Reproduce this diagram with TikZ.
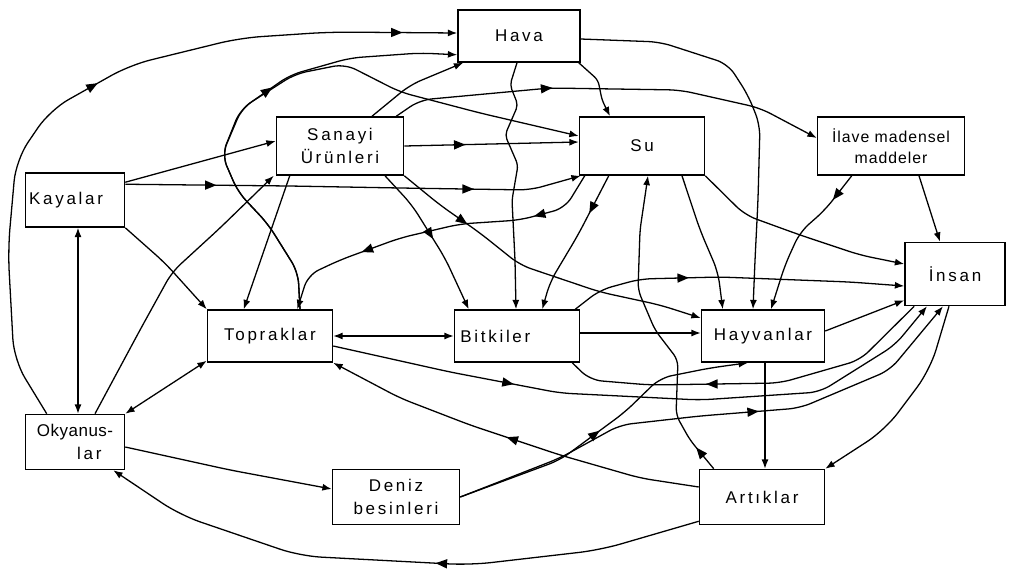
\documentclass[tikz,border=0pt]{standalone}
\usepackage{fontspec}
\setmainfont{Liberation Sans}[LetterSpace=16]
\usetikzlibrary{arrows.meta,calc,shapes.geometric,backgrounds}
\tikzset{
 box/.style={draw, line width=1.3pt, fill=white, inner sep=3pt, font=\fontsize{14.5}{19}\selectfont, align=center},
 ln/.style={line width=1.1pt, rounded corners=10pt},
 arr/.style={ln, -{Latex[length=8pt,width=6pt]}},
 barr/.style={ln, {Latex[length=8pt,width=6pt]}-{Latex[length=8pt,width=6pt]}},
 midtri/.style={sharp corners, sloped, allow upside down, isosceles triangle, isosceles triangle apex angle=45, fill=black, draw=none, inner sep=2.2pt, minimum size=0pt},
}
\begin{document}
\begin{tikzpicture}[x=0.03cm,y=-0.03cm]
\useasboundingbox (0,0) rectangle (1011,576);
% nodes
\node[box, minimum width=3.66cm, minimum height=1.56cm] (hava) at (519,36) {Hava};
\node[box, minimum width=3.81cm, minimum height=1.74cm] (san) at (340,146) {Sanayi\\Ürünleri};
\node[box, minimum width=3.75cm, minimum height=1.74cm] (su) at (642,146) {Su};
\node[box, minimum width=4.41cm, minimum height=1.74cm, inner sep=1pt, font=\fontsize{13.5}{18}\selectfont] (ila) at (891,146) {\addfontfeature{LetterSpace=6}İlave madensel\\\addfontfeature{LetterSpace=6}maddeler};
\node[box, minimum width=2.97cm, minimum height=1.62cm, text width=2.75cm, align=left] (kay) at (75,200) {Kayalar};
\node[box, minimum width=3.0cm, minimum height=1.89cm] (ins) at (955,274) {İnsan};
\node[box, minimum width=3.75cm, minimum height=1.56cm] (top) at (270,336) {Topraklar};
\node[box, minimum width=3.75cm, minimum height=1.56cm, text width=3.4cm, align=left] (bit) at (517,336) {Bitkiler};
\node[box, minimum width=3.69cm, minimum height=1.56cm] (hay) at (763,336) {Hayvanlar};
\node[box, minimum width=2.97cm, minimum height=1.65cm, align=right, inner sep=1pt] (ok) at (75,442) {\addfontfeature{LetterSpace=3}Okyanus-\\lar\hspace*{0.35cm}};
\node[box, minimum width=3.81cm, minimum height=1.65cm] (den) at (396,497) {Deniz\\besinleri};
\node[box, minimum width=3.75cm, minimum height=1.65cm] (art) at (762,497) {Artıklar};

\begin{pgfonlayer}{background}
% Okyanuslar -> Hava (outer arc)
\draw[arr, rounded corners=18pt] ($(ok.north west)+(22,0)$) -- (14,360) -- (8,250) -- (16,160) -- (50,110) -- node[midtri]{} (130,65) -- (240,38) -- (330,32) -- node[midtri]{} ($(hava.west)+(0,-3)$);
% Topraklar -> Hava
\draw[arr] ($(top.north)+(30,0)$) -- (298,272) -- (268,224) -- (238,192) -- (222,155) -- (240,110) -- node[midtri]{} (290,75) -- (350,58) -- (420,53) -- ($(hava.south west)+(0,-8)$);
% Topraklar -> Su
\draw[arr] ($(top.north)+(30,0)$) -- (298,272) -- (268,224) -- (238,192) -- (222,155) -- (242,108) -- (295,74) -- (345,64) -- (400,92) -- (480,113) -- ($(su.west)+(0,-10)$);
% Kayalar -> Sanayi
\draw[arr] ($(kay.north east)+(0,10)$) -- ($(san.west)+(0,-5)$);
% Kayalar -> Su
\draw[arr] ($(kay.north east)+(0,12)$) -- node[midtri]{} (290,186) -- (400,188) -- node[midtri]{} (530,190) -- ($(su.south west)+(2,0)$);
% Kayalar -> Topraklar
\draw[arr] (kay.south east) -- (165,263) -- (top.north west);
% Kayalar <-> Okyanuslar
\draw[barr] ($(kay.south)+(3,0)$) -- ($(ok.north)+(3,0)$);
% Okyanuslar -> Sanayi
\draw[arr] ($(ok.north)+(20,0)$) -- (140,330) -- (172,272) -- (220,228) -- ($(san.south west)+(-2,0)$);
% Topraklar <-> Okyanuslar
\draw[barr] ($(top.south west)+(0,-2)$) -- (ok.north east);
% Okyanuslar -> Deniz besinleri
\draw[arr] ($(ok.east)+(0,5)$) -- (230,470) -- ($(den.west)+(0,-8)$);
% Artiklar -> Okyanuslar
\draw[arr, rounded corners=18pt] ($(art.south west)+(0,-4)$) -- (600,550) -- (470,565) -- node[midtri, pos=0.15]{} (300,556) -- (180,515) -- ($(ok.south east)+(-12,0)$);
% Deniz besinleri -> Hayvanlar
\draw[arr] (den.east) -- (560,460) -- node[midtri]{} (625,412) -- (660,378) -- (710,368) -- ($(hay.south)+(-15,0)$);
% Deniz besinleri -> Insan
\draw[arr] (den.east) -- (560,458) -- (620,425) -- (700,416) -- node[midtri]{} (800,408) -- (890,370) -- ($(ins.south)+(-12,0)$);
% Artiklar -> Topraklar
\draw[arr] ($(art.west)+(0,-10)$) -- (640,478) -- (560,455) -- node[midtri]{} (470,425) -- (400,398) -- (top.south east);
% Topraklar -> Insan
\draw[arr] ($(top.east)+(0,10)$) -- (450,372) -- node[midtri]{} (560,393) -- (700,400) -- (820,392) -- (895,345) -- ($(ins.south)+(-28,0)$);
% Insan -> Bitkiler
\draw[ln] ($(ins.south west)+(10,0)$) -- (860,360) -- (780,383) -- node[midtri]{} (650,385) -- (590,380) -- ($(bit.south east)+(-8,0)$);
% Topraklar <-> Bitkiler
\draw[barr] (top.east) -- (bit.west);
% Bitkiler -> Hayvanlar
\draw[arr] ($(bit.east)+(0,-3)$) -- ($(hay.west)+(0,-3)$);
% Hayvanlar -> Insan
\draw[arr] ($(hay.east)+(0,-5)$) -- ($(ins.south west)+(0,-6)$);
% Hayvanlar -> Artiklar
\draw[arr] ($(hay.south)+(2,0)$) -- ($(art.north)+(3,0)$);
% Insan -> Artiklar
\draw[arr, rounded corners=18pt] ($(ins.south)+(-6,0)$) -- (930,370) -- (885,430) -- (art.north east);
% Hava -> Bitkiler
\draw[arr, rounded corners=4pt] ($(hava.south)+(-2,0)$) -- (510,85) -- (518,105) -- (505,135) -- (518,165) -- (512,200) -- (515,260) -- ($(bit.north)+(-1,0)$);
% Hava -> Su
\draw[arr, rounded corners=4pt] ($(hava.south east)+(-2,0)$) -- (598,80) -- (602,100) -- ($(su.north)+(-32,0)$);
% Hava -> Hayvanlar
\draw[arr] ($(hava.east)+(0,3)$) -- (660,42) -- (728,64) -- (748,95) -- (760,125) -- (758,200) -- (755,260) -- ($(hay.north)+(-10,0)$);
% Sanayi -> Ilave madensel maddeler
\draw[arr] ($(san.north east)+(-8,0)$) -- (420,100) -- node[midtri, pos=0.95]{} (550,88) -- (680,90) -- (760,108) -- ($(ila.west)+(0,-8)$);
% Sanayi -> Hava
\draw[arr] ($(san.north)+(32,0)$) -- (410,85) -- ($(hava.south west)+(6,0)$);
% Ilave -> Insan
\draw[arr] ($(ila.south)+(28,0)$) -- ($(ins.north)+(-15,0)$);
% Ilave -> Hayvanlar
\draw[arr] ($(ila.south west)+(35,0)$) -- node[midtri]{} (825,210) -- (800,232) -- (785,265) -- ($(hay.north)+(8,0)$);
% Su -> Insan
\draw[arr] (su.south east) -- (745,215) -- (800,235) -- (860,255) -- ($(ins.west)+(0,-10)$);
% Su -> Hayvanlar
\draw[arr] ($(su.south)+(40,0)$) -- (700,230) -- (718,272) -- ($(hay.north west)+(22,0)$);
% Su -> Bitkiler
\draw[arr] ($(su.south west)+(30,0)$) -- node[midtri]{} (578,235) -- (550,282) -- ($(bit.north east)+(-38,0)$);
% Su -> Topraklar
\draw[arr] ($(su.south west)+(6,0)$) -- (565,208) -- node[midtri]{} (520,220) -- (460,224) -- (400,238) -- node[midtri]{} (340,260) -- (308,275) -- ($(top.north east)+(-36,0)$);
% Sanayi -> Su
\draw[arr] (san.east) -- node[midtri, pos=0.3]{} ($(su.west)+(0,-4)$);
% Sanayi -> Bitkiler
\draw[arr] ($(san.south)+(45,0)$) -- (412,205) -- node[midtri]{} (445,258) -- ($(bit.north west)+(15,0)$);
% Sanayi -> Topraklar
\draw[arr] ($(san.south west)+(14,0)$) -- ($(top.north west)+(37,0)$);
% Sanayi -> Hayvanlar
\draw[arr] (san.south east) -- (440,205) -- node[midtri]{} (480,233) -- (520,265) -- (600,292) -- (660,305) -- ($(hay.west)+(0,-18)$);
% Artiklar -> Su
\draw[arr, rounded corners=6pt] ($(art.north west)+(15,0)$) -- node[midtri]{} (690,440) -- (676,415) -- (678,360) -- (655,330) -- (638,290) -- (640,230) -- ($(su.south)+(6,0)$);
% Bitkiler -> Insan
\draw[arr] ($(bit.north east)+(-5,0)$) -- (600,290) -- (640,279) -- node[midtri]{} (720,277) -- (850,282) -- ($(ins.west)+(0,12)$);
\end{pgfonlayer}
\end{tikzpicture}
\end{document}
